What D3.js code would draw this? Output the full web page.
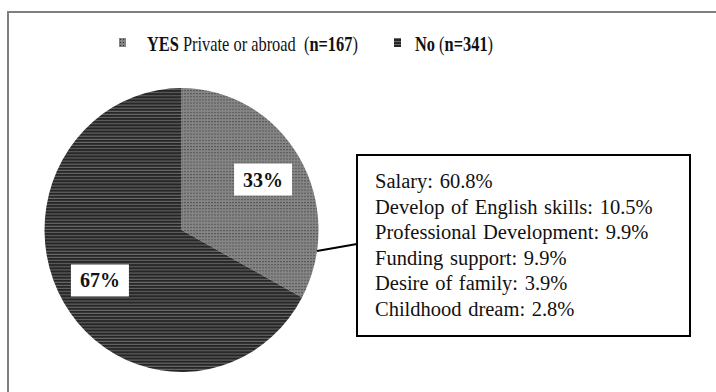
<!DOCTYPE html>
<html>
<head>
<meta charset="utf-8">
<script src="https://cdn.jsdelivr.net/npm/d3@7"></script>
<style>
  body { margin: 0; background: #fff; }
  svg { display: block; font-family: "Liberation Serif", "Times New Roman", serif; }
</style>
</head>
<body>
<div id="chart"></div>
<script>
// pie data
const groups = ["YES", "No"];
const groupNotes = ["Private or abroad", ""];
const counts = [167, 341];
const pctLabels = ["33%", "67%"];

// reasons shown in the callout box
const reasons = ["Salary: 60.8%", "Develop of English skills: 10.5%", "Professional Development: 9.9%",
    "Funding support: 9.9%", "Desire of family: 3.9%", "Childhood dream: 2.8%"];

var width = 716, height = 392;
var cx = 181.5, cy = 230, r = 137, yStretch = 142 / 137;

var svg = d3.select("#chart").append("svg")
    .attr("width", width)
    .attr("height", height);

var defs = svg.append("defs");

// dotted fill for YES
var dots = defs.append("pattern")
    .attr("id", "dots")
    .attr("patternUnits", "userSpaceOnUse")
    .attr("width", 3).attr("height", 3);
dots.append("rect").attr("width", 3).attr("height", 3).attr("fill", "#858585");
dots.append("rect").attr("width", 1).attr("height", 1).attr("fill", "#2a2a2a");

// horizontal stripes for No
var stripes = defs.append("pattern")
    .attr("id", "stripes")
    .attr("patternUnits", "userSpaceOnUse")
    .attr("width", 4).attr("height", 3);
stripes.append("rect").attr("width", 4).attr("height", 3).attr("fill", "#262626");
stripes.append("rect").attr("y", 2).attr("width", 4).attr("height", 1).attr("fill", "#6a6a6a");

const fills = ["url(#dots)", "url(#stripes)"];

// outer frame (runs off the page on the right and bottom)
svg.append("rect")
    .attr("x", 8).attr("y", 12)
    .attr("width", 760).attr("height", 420)
    .attr("fill", "none")
    .attr("stroke", "#7f7f7f")
    .attr("stroke-width", 2);

// legend (text is squeezed sideways like the original)
var lgX = [119, 394], lgText = [147, 415];
var legendText = [
    [{t: "YES", b: true}, {t: " Private or abroad ", b: false}, {t: " (", b: false}, {t: "n=167", b: true}, {t: ")", b: false}],
    [{t: "No", b: true}, {t: " (", b: false}, {t: "n=341", b: true}, {t: ")", b: false}]
];
groups.forEach(function(g, i){
    svg.append("rect")
        .attr("x", lgX[i]).attr("y", 38)
        .attr("width", 7).attr("height", 9)
        .attr("fill", fills[i]);
    var t = svg.append("text")
        .attr("transform", "translate(" + lgText[i] + ",51) scale(0.82,1)")
        .attr("font-size", 20)
        .attr("xml:space", "preserve")
        .attr("fill", "#111");
    legendText[i].forEach(function(p){
        t.append("tspan").attr("font-weight", p.b ? "bold" : "normal").text(p.t);
    });
});

// pie
var pie = d3.pie().sort(null).value(d => d);
var arcs = pie(counts);
var arc = d3.arc().innerRadius(0).outerRadius(r);

var g = svg.append("g")
    .attr("transform", "translate(" + cx + "," + cy + ") scale(1," + yStretch + ")");

g.selectAll("path.slice")
    .data(arcs)
    .enter().append("path")
    .attr("class", "slice")
    .attr("d", arc)
    .attr("fill", (d, i) => fills[i]);

// percentage labels on white boxes
var labelArc = d3.arc().innerRadius(95).outerRadius(95);
arcs.forEach(function(d, i){
    var c = labelArc.centroid(d);
    var lx = cx + c[0], ly = cy + c[1] * yStretch;
    svg.append("rect")
        .attr("x", lx - 29).attr("y", ly - 16)
        .attr("width", 58).attr("height", 32)
        .attr("fill", "#fff");
    svg.append("text")
        .attr("x", lx).attr("y", ly + 7)
        .attr("text-anchor", "middle")
        .attr("font-size", 20)
        .attr("font-weight", "bold")
        .attr("fill", "#111")
        .text(pctLabels[i]);
});

// callout box
var box = {x: 357, y: 155, w: 333, h: 181};
var leadAngle = 1.72; // radians from 12 o'clock, where the leader leaves the YES slice
var lx0 = cx + r * Math.sin(leadAngle), ly0 = cy - r * Math.cos(leadAngle) * yStretch;
svg.append("line")
    .attr("x1", lx0).attr("y1", ly0)
    .attr("x2", box.x).attr("y2", 244)
    .attr("stroke", "#000")
    .attr("stroke-width", 2);

svg.append("rect")
    .attr("x", box.x).attr("y", box.y)
    .attr("width", box.w).attr("height", box.h)
    .attr("fill", "#fff")
    .attr("stroke", "#000")
    .attr("stroke-width", 2);

var ry = d3.scalePoint().domain(reasons).range([188, 316]);
svg.selectAll("text.reason")
    .data(reasons)
    .enter().append("text")
    .attr("class", "reason")
    .attr("x", 375)
    .attr("y", d => ry(d))
    .attr("font-size", 20.5)
    .attr("word-spacing", 1.5)
    .attr("fill", "#111")
    .text(d => d);
</script>
</body>
</html>
